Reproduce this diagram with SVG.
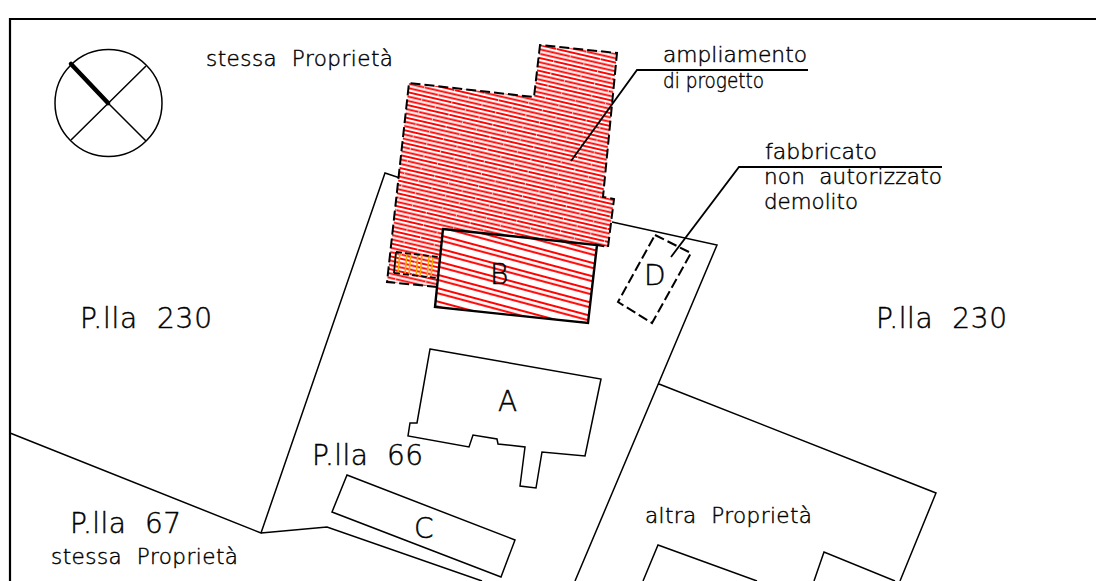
<svg xmlns="http://www.w3.org/2000/svg" width="1096" height="581" viewBox="0 0 1096 581">
<style>
text{font-family:"DejaVu Sans","Liberation Sans",sans-serif;font-weight:200;fill:#000;stroke:#000;stroke-width:.45;white-space:pre}
.l{font-size:28px}.s{font-size:21.5px}
.n{fill:none;stroke:#000;stroke-width:1.5;stroke-linejoin:miter}
.d{fill:none;stroke:#000;stroke-width:2;stroke-dasharray:10 4}
.o{stroke:#f5a800;stroke-width:1.6}
</style>
<defs>
<pattern id="h1" patternUnits="userSpaceOnUse" width="45" height="12.6" patternTransform="rotate(13 400 80)">
<rect width="45" height="12.6" fill="#fff"/>
<rect y="1" width="45" height="1.9" fill="#f00"/><rect y="5.2" width="45" height="1.9" fill="#f00"/><rect y="9.4" width="45" height="1.9" fill="#f00"/>
<rect x="5" y="1" width=".7" height="1.9" fill="#fff"/><rect x="20" y="5.2" width=".7" height="1.9" fill="#fff"/><rect x="35" y="9.4" width=".7" height="1.9" fill="#fff"/>
</pattern>
<pattern id="h2" patternUnits="userSpaceOnUse" width="40" height="12.9" patternTransform="rotate(15 440 230)">
<rect width="40" height="12.9" fill="#fff"/><rect y="2" width="40" height="2" fill="#f00"/><rect y="6.8" width="40" height="2" fill="#f00"/>
</pattern>
</defs>
<rect width="1096" height="581" fill="#fff"/>
<path id="frame" d="M10 581V19H1096" fill="none" stroke="#000" stroke-width="2.2"/>
<g id="compass">
<circle class="n" cx="108.500" cy="103" r="53.500"/>
<path class="n" d="M146 66L71 140M108 103L146 141"/>
<path d="M71 64L108 103" fill="none" stroke="#000" stroke-width="4.500" stroke-linecap="round"/>
</g>
<g id="parcels">
<path class="n" d="M10 433L261 533L385 173L400 178M612 222L717 245L575 581M261 533L327 527L482 581M659 384L936 493L900 581"/>
<path class="n" d="M643 581L658 545L757 581M814 581L824 552L895 581"/>
</g>
<g id="ampliamento">
<path d="M409 83L534 97L540 45L617 53L603 197L614 199L608 247L597 245L443 229L437 287L387 282Z" fill="url(#h1)"/>
<path class="d" d="M437 287L387 282L409 83L534 97L540 45L617 53L603 197L614 199L608 247L597 245"/>
</g>
<g id="orange">
<path class="o" d="M396 252L394 273M400 252L398 273M407 253L405 275M411 253L409 275M418 254L416 276M422 255L420 276M429 255L427 278M433 256L431 278"/>
<path d="M396 252L438 257M394 273L437 278" fill="none" stroke="#000" stroke-width="1.800" stroke-dasharray="6 3"/>
<path d="M396 252L394 273" fill="none" stroke="#000" stroke-width="1.800"/>
</g>
<g id="node-b">
<path d="M443 229L597 245L588 323L435 307Z" fill="url(#h2)" stroke="#000" stroke-width="2.400"/>
<text class="l" x="490" y="284">B</text>
</g>
<g id="node-a">
<path class="n" d="M430 349L601 379L585 456L542 452L536 488L520 486L525 447L498 444L497 439L473 435L469 447L408 436L410 423L417 423Z"/>
<text class="l" x="498" y="411">A</text>
</g>
<g id="node-c">
<path class="n" d="M347 475L515 540L501 577L332 512Z"/>
<text class="l" x="414" y="538">C</text>
</g>
<g id="node-d">
<path class="d" d="M655 235L691 253L652 323L618 302Z" stroke-width="1.600"/>
<text class="l" x="644" y="285">D</text>
</g>
<g id="connectors">
<path d="M808 70H637L571 161M942 167H739L671 257" fill="none" stroke="#000" stroke-width="1.800"/>
</g>
<g id="labels">
<text class="s" x="206" y="66" textLength="187">stessa  Proprietà</text>
<text class="s" x="663" y="62" textLength="144" lengthAdjust="spacingAndGlyphs">ampliamento</text>
<text class="s" x="663" y="88" textLength="101" lengthAdjust="spacingAndGlyphs">di progetto</text>
<text class="s" x="765" y="159" textLength="112" lengthAdjust="spacingAndGlyphs">fabbricato</text>
<text class="s" x="764" y="184" textLength="178">non  autorizzato</text>
<text class="s" x="764" y="209" textLength="94" lengthAdjust="spacingAndGlyphs">demolito</text>
<text class="l" x="80" y="328" textLength="132">P.lla  230</text>
<text class="l" x="876" y="328" textLength="131">P.lla  230</text>
<text class="l" x="312" y="465" textLength="111">P.lla  66</text>
<text class="l" x="70" y="533" textLength="111">P.lla  67</text>
<text class="s" x="51" y="564" textLength="187">stessa  Proprietà</text>
<text class="s" x="645" y="523" textLength="167">altra  Proprietà</text>
</g>
</svg>
